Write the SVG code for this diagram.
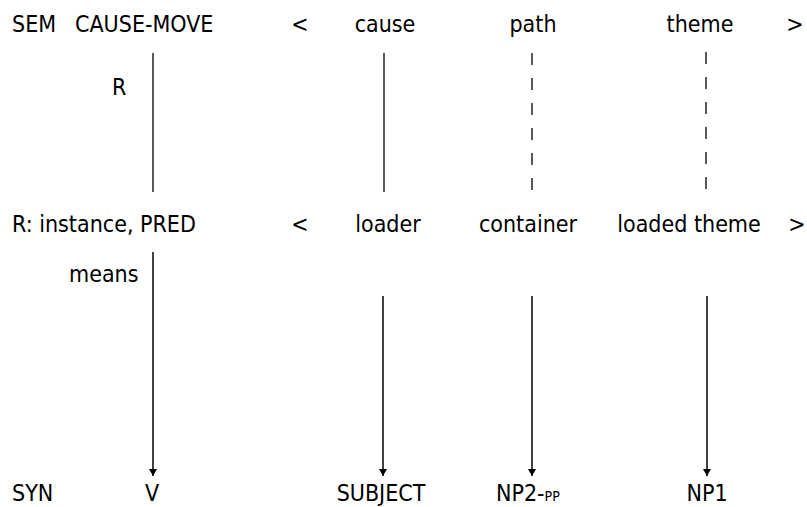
<svg xmlns="http://www.w3.org/2000/svg" width="807" height="507" viewBox="0 0 807 507">
<style>
text{font-family:"Liberation Sans Narrow","DejaVu Sans Condensed","Liberation Sans",sans-serif;font-size:23px;fill:#000}
.m{text-anchor:middle}
.s{stroke:#000;stroke-width:1.3;fill:none}
.d{stroke:#000;stroke-width:1.3;fill:none;stroke-dasharray:12 13}
.a{stroke:#000;stroke-width:1.5;fill:none;marker-end:url(#ah)}
.sub{font-size:14px}
</style>
<defs>
<marker id="ah" markerWidth="8" markerHeight="10" refX="7" refY="5" orient="auto" markerUnits="userSpaceOnUse">
<path d="M0,1 L7,5 L0,9 Z" fill="#000"/>
</marker>
</defs>
<rect width="807" height="507" fill="#fff"/>
<g id="connectors">
<line class="s" x1="153" y1="53" x2="153" y2="192"/>
<line class="s" x1="384" y1="53" x2="384" y2="192"/>
<line class="d" x1="532" y1="53" x2="532" y2="193"/>
<line class="d" x1="706" y1="52" x2="706" y2="193"/>
<line class="a" x1="153" y1="252" x2="153" y2="476"/>
<line class="a" x1="383" y1="296" x2="383" y2="476"/>
<line class="a" x1="532" y1="296" x2="532" y2="476"/>
<line class="a" x1="707" y1="296" x2="707" y2="476"/>
</g>
<g id="sem">
<text x="12" y="32">SEM</text>
<text x="75" y="32">CAUSE-MOVE</text>
<text class="m" x="300" y="32">&lt;</text>
<text class="m" x="385" y="32">cause</text>
<text class="m" x="533" y="32">path</text>
<text class="m" x="700" y="32">theme</text>
<text class="m" x="795" y="32">&gt;</text>
</g>
<g id="r-label"><text x="112" y="95">R</text></g>
<g id="r-row">
<text x="12" y="232">R: instance, PRED</text>
<text class="m" x="300" y="232">&lt;</text>
<text class="m" x="388" y="232">loader</text>
<text class="m" x="528" y="232">container</text>
<text class="m" x="689" y="232">loaded theme</text>
<text class="m" x="797" y="232">&gt;</text>
</g>
<g id="means-label"><text x="69" y="282">means</text></g>
<g id="syn">
<text x="12" y="501">SYN</text>
<text class="m" x="152" y="501">V</text>
<text class="m" x="381" y="501">SUBJECT</text>
<text x="496" y="501">NP2-<tspan class="sub">PP</tspan></text>
<text class="m" x="707" y="501">NP1</text>
</g>
</svg>
